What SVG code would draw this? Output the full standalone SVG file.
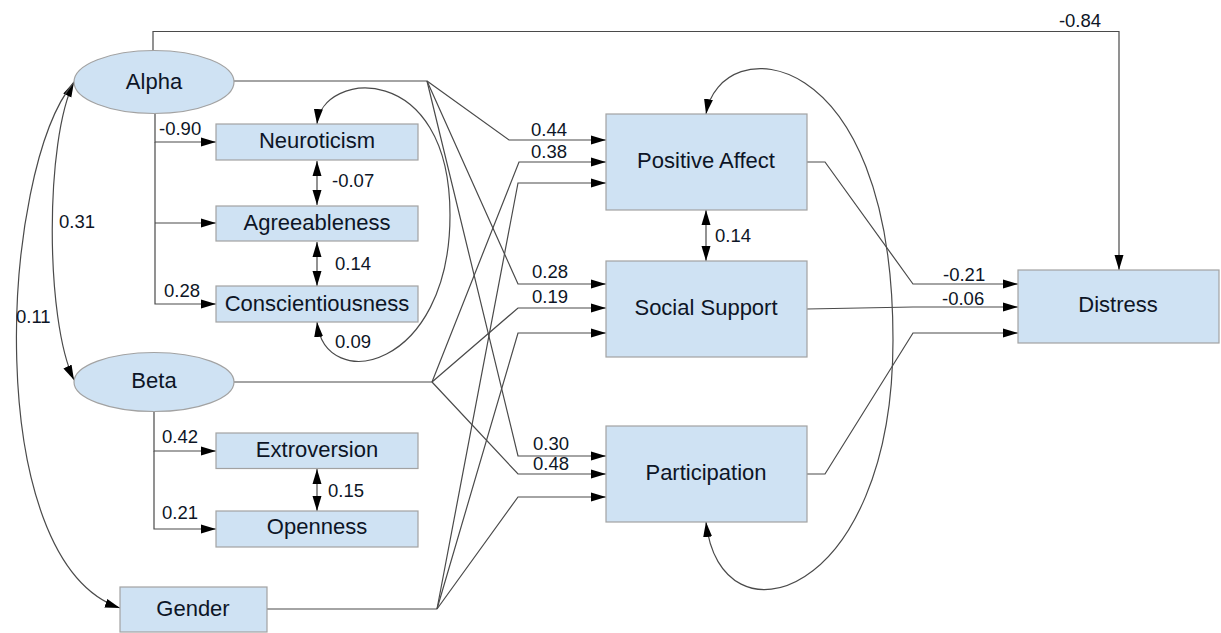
<svg xmlns="http://www.w3.org/2000/svg" width="1221" height="633" viewBox="0 0 1221 633">
<defs>
<marker id="ah" markerUnits="userSpaceOnUse" markerWidth="15" markerHeight="10" refX="15" refY="5" orient="auto-start-reverse">
<path d="M0,0.5 L15,5 L0,9.5 z" fill="#000"/>
</marker>
<style>
.box{fill:#cfe2f3;stroke:#a2a2a2;stroke-width:1.2}
.lbl{font-family:"Liberation Sans",Arial,sans-serif;font-size:22px;fill:#0d1526;text-anchor:middle}
.num{font-family:"Liberation Sans",Arial,sans-serif;font-size:18.5px;fill:#0d1526}
.c{fill:none;stroke:#4a4a4a;stroke-width:1.2}
.a{marker-end:url(#ah)}
.b{marker-start:url(#ah);marker-end:url(#ah)}
</style>
</defs>
<rect width="1221" height="633" fill="#fff"/>
<g id="connectors">
<path class="c a" d="M153,51 V31.5 H1119 V270"/>
<path class="c" d="M234,81 H427"/>
<path class="c a" d="M155,113 V142 H216"/>
<path class="c a" d="M155,223 H216"/>
<path class="c a" d="M155,142 V304 H216"/>
<path class="c b" d="M317,161 V205"/>
<path class="c b" d="M317,242 V286"/>
<path class="c b" d="M317,124 C322,70 450,60 450,215 C450,370 325,395 317,322"/>
<path class="c b" d="M74,82 C45,140 45,320 74,380"/>
<path class="c a" d="M74,82 C0,170 -20,560 120,608"/>
<path class="c" d="M234,382 H432"/>
<path class="c a" d="M154,412 V451 H216"/>
<path class="c a" d="M154,451 V529 H216"/>
<path class="c b" d="M317,469 V511"/>
<path class="c" d="M267,609 H437"/>
<path class="c a" d="M427,81 L509,140 H606"/>
<path class="c a" d="M432,382 L519,162 H606"/>
<path class="c a" d="M437,609 L518,183 H606"/>
<path class="c a" d="M427,81 L518,284 H606"/>
<path class="c a" d="M432,382 L518,308 H606"/>
<path class="c a" d="M437,609 L518,333 H606"/>
<path class="c a" d="M427,81 L518,456 H606"/>
<path class="c a" d="M432,382 L518,474 H606"/>
<path class="c a" d="M437,609 L518,497 H606"/>
<path class="c b" d="M706,210 V261"/>
<path class="c b" d="M706,114 C720,30 893,40 893,340 C893,600 720,650 706,522"/>
<path class="c a" d="M807,162 H825 L913,284 H1018"/>
<path class="c a" d="M807,309 L913,307 H1018"/>
<path class="c a" d="M807,474 H825 L913,333 H1018"/>
</g>
<g id="labels">
<text class="num" x="1080" y="26.5" text-anchor="middle">-0.84</text>
<text class="num" x="159" y="135">-0.90</text>
<text class="num" x="164" y="297">0.28</text>
<text class="num" x="332" y="187">-0.07</text>
<text class="num" x="335" y="270">0.14</text>
<text class="num" x="335" y="348">0.09</text>
<text class="num" x="59" y="228">0.31</text>
<text class="num" x="16" y="323">0.11</text>
<text class="num" x="162" y="443">0.42</text>
<text class="num" x="162" y="519">0.21</text>
<text class="num" x="328" y="497">0.15</text>
<text class="num" x="531" y="136">0.44</text>
<text class="num" x="531" y="158">0.38</text>
<text class="num" x="715" y="242">0.14</text>
<text class="num" x="532" y="278">0.28</text>
<text class="num" x="532" y="303">0.19</text>
<text class="num" x="533" y="450">0.30</text>
<text class="num" x="533" y="470">0.48</text>
<text class="num" x="943" y="281">-0.21</text>
<text class="num" x="942" y="305">-0.06</text>
</g>
<g id="alpha"><ellipse class="box" cx="154" cy="82" rx="80" ry="31.5"/><text class="lbl" x="154" y="89">Alpha</text></g>
<g id="neuroticism"><rect class="box" x="216" y="124" width="202" height="36"/><text class="lbl" x="317" y="148">Neuroticism</text></g>
<g id="agreeableness"><rect class="box" x="216" y="206" width="202" height="35"/><text class="lbl" x="317" y="230">Agreeableness</text></g>
<g id="conscientiousness"><rect class="box" x="216" y="286" width="202" height="36"/><text class="lbl" x="317" y="311">Conscientiousness</text></g>
<g id="beta"><ellipse class="box" cx="154" cy="382" rx="80" ry="29.5"/><text class="lbl" x="154" y="388">Beta</text></g>
<g id="extroversion"><rect class="box" x="216" y="433" width="202" height="35.5"/><text class="lbl" x="317" y="457">Extroversion</text></g>
<g id="openness"><rect class="box" x="216" y="511" width="202" height="36"/><text class="lbl" x="317" y="534">Openness</text></g>
<g id="gender"><rect class="box" x="120" y="587" width="147" height="45"/><text class="lbl" x="193" y="616">Gender</text></g>
<g id="positive-affect"><rect class="box" x="606" y="114" width="201" height="96"/><text class="lbl" x="706" y="168">Positive Affect</text></g>
<g id="social-support"><rect class="box" x="606" y="261" width="201" height="96"/><text class="lbl" x="706" y="315">Social Support</text></g>
<g id="participation"><rect class="box" x="606" y="426" width="201" height="96"/><text class="lbl" x="706" y="480">Participation</text></g>
<g id="distress"><rect class="box" x="1018" y="270" width="201" height="73"/><text class="lbl" x="1118" y="312">Distress</text></g>
</svg>
